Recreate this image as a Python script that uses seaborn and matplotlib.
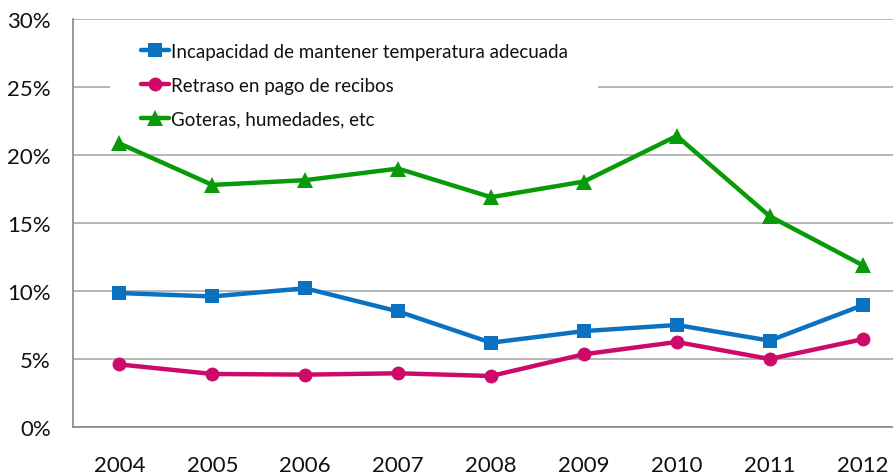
import matplotlib
matplotlib.use("Agg")
import matplotlib.pyplot as plt
import seaborn as sns
import pandas as pd
from matplotlib.ticker import FixedLocator, FuncFormatter
from matplotlib.patches import Rectangle

years = [2004, 2005, 2006, 2007, 2008, 2009, 2010, 2011, 2012]
incapacidad = [9.85, 9.6, 10.2, 8.5, 6.2, 7.05, 7.5, 6.35, 8.95]
retraso = [4.6, 3.9, 3.85, 3.95, 3.75, 5.35, 6.25, 5.0, 6.45]
goteras = [20.85, 17.8, 18.15, 19.0, 16.9, 18.05, 21.4, 15.5, 11.9]
series_names = ["Incapacidad de mantener temperatura adecuada",
                "Retraso en pago de recibos",
                "Goteras, humedades, etc"]
y_ticks = [0, 5, 10, 15, 20, 25, 30]

df = pd.DataFrame({
    "year": years * 3,
    "value": incapacidad + retraso + goteras,
    "serie": [series_names[0]] * 9 + [series_names[1]] * 9 + [series_names[2]] * 9,
})

sns.set_theme(style="white")
plt.rcParams["font.family"] = ["Lato", "DejaVu Sans"]

W, H = 893, 477
fig = plt.figure(figsize=(W / 100, H / 100), dpi=100)
ax = fig.add_axes([73 / W, 49 / H, 836 / W, 408 / H])

palette = {series_names[0]: "#0b72c2", series_names[1]: "#cc0a6a", series_names[2]: "#089a08"}
markers = {series_names[0]: "s", series_names[1]: "o", series_names[2]: "^"}
sns.lineplot(data=df, x="year", y="value", hue="serie", style="serie",
             palette=palette, markers=markers, dashes=False, linewidth=3.2,
             markersize=10, markeredgewidth=0, ax=ax, zorder=3, legend=True)
for ln in ax.lines:
    if ln.get_marker() == "^":
        ln.set_markersize(11.5)

handles, labels = ax.get_legend_handles_labels()
if ax.get_legend() is not None:
    ax.get_legend().remove()

ax.set_xlim(2003.5, 2012.5)
ax.set_ylim(0, 30)
ax.set_yticks(y_ticks)
ax.yaxis.set_major_formatter(FuncFormatter(lambda v, p: f"{int(v)}%"))
ax.xaxis.set_major_locator(FixedLocator([y + 0.5 for y in [2003] + years]))
ax.xaxis.set_major_formatter(FuncFormatter(lambda v, p: ""))
ax.xaxis.set_minor_locator(FixedLocator(years))
ax.xaxis.set_minor_formatter(FuncFormatter(lambda v, p: f"{int(round(v))}"))
ax.tick_params(axis="x", which="major", length=7, color="#888888", width=1, direction="out")
ax.tick_params(axis="x", which="minor", length=0, pad=20, labelsize=16, labelcolor="#111111")
ax.tick_params(axis="y", which="major", length=6, color="#888888", width=1, direction="out",
               pad=10, labelsize=16, labelcolor="#111111")
ax.grid(axis="y", color="#aaaaaa", linewidth=1.2, zorder=0)
ax.set_axisbelow(True)
for s in ["top", "right"]:
    ax.spines[s].set_visible(False)
for s in ["left", "bottom"]:
    ax.spines[s].set_color("#888888")
    ax.spines[s].set_linewidth(1.2)
ax.set_xlabel("")
ax.set_ylabel("")

# white legend background box (covers gridlines, below the data lines)
ax.add_patch(Rectangle((110 / W, (H - 150) / H), 488 / W, 125 / H,
                       transform=fig.transFigure, facecolor="white",
                       edgecolor="none", zorder=2.5, clip_on=False))

leg = fig.legend(handles, labels, loc="upper left",
                 bbox_to_anchor=(141 / W, (H - 44) / H), bbox_transform=fig.transFigure,
                 frameon=False, fontsize=13.5, handlelength=1.5, handletextpad=0.08,
                 labelspacing=0.9, borderpad=0, borderaxespad=0)
leg.set_zorder(5)
for t in leg.get_texts():
    t.set_color("#111111")

fig.savefig("out.png", dpi=100)
